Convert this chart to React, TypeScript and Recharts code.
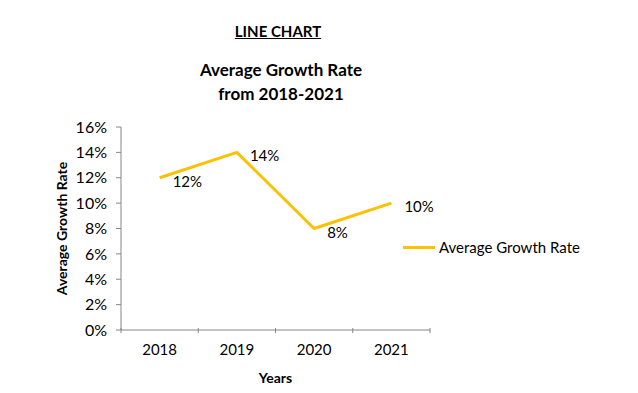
import { LineChart, Line, XAxis, YAxis, Legend, LabelList } from 'recharts';

const years = ['2018', '2019', '2020', '2021'];
const growthRate = [0.12, 0.14, 0.08, 0.1];
const yTicks = [0, 0.02, 0.04, 0.06, 0.08, 0.1, 0.12, 0.14, 0.16];
const seriesName = 'Average Growth Rate';

const data = years.map((year, i) => ({ year, rate: growthRate[i] }));

const FONT = 'Lato, "Liberation Sans", sans-serif';
const GOLD = '#FFC000';
const AXIS = '#868686';

const pct = (v: number) => `${Math.round(v * 100)}%`;

const renderLabel = (props: any) => {
  const { x, y, value } = props;
  return (
    <text x={x + 13} y={y + 3} fontSize={15} fontFamily={FONT} fill="#000" dominantBaseline="central">
      {pct(value)}
    </text>
  );
};

// category labels centred in each band, tick marks on the band edges (Excel style)
const renderXTick = (props: any) => {
  const { x, y, payload, index, visibleTicksCount } = props;
  const half = payload.offset || 0;
  const axisY = y - 16;
  return (
    <g>
      <line x1={x - half} x2={x - half} y1={axisY} y2={axisY + 5} stroke={AXIS} />
      {index === visibleTicksCount - 1 && (
        <line x1={x + half} x2={x + half} y1={axisY} y2={axisY + 5} stroke={AXIS} />
      )}
      <text x={x} y={axisY + 27} textAnchor="middle" fontSize={15} fontFamily={FONT} fill="#000">
        {payload.value}
      </text>
    </g>
  );
};

const renderLegend = () => (
  <div style={{ display: 'flex', alignItems: 'center', fontFamily: FONT, fontSize: 15 }}>
    <div style={{ width: 32, height: 3, background: GOLD, marginRight: 4 }} />
    <span>{seriesName}</span>
  </div>
);

const App = () => (
  <div style={{ position: 'absolute', left: 0, top: 0, width: 638, height: 393, background: '#fff', fontFamily: FONT }}>
    <div style={{ position: 'absolute', left: 0, width: 556, top: 22, textAlign: 'center', fontWeight: 'bold', fontSize: 15, textDecoration: 'underline' }}>
      LINE CHART
    </div>
    <div style={{ position: 'absolute', left: 0, width: 562, top: 58, textAlign: 'center', fontWeight: 'bold', fontSize: 17, lineHeight: '24px' }}>
      Average Growth Rate
      <br />
      from 2018-2021
    </div>
    <LineChart width={638} height={393} data={data} margin={{ top: 127, right: 208, bottom: 33, left: 61 }}>
      <XAxis
        dataKey="year"
        scale="band"
        stroke={AXIS}
        tickLine={false}
        tick={renderXTick}
        tickMargin={8}
        height={30}
        label={{ value: 'Years', position: 'insideBottom', offset: -23, fontWeight: 'bold', fontSize: 14, fill: '#000', fontFamily: FONT }}
      />
      <YAxis
        domain={[0, 0.16]}
        ticks={yTicks}
        tickFormatter={pct}
        stroke={AXIS}
        tickSize={5}
        tickMargin={9}
        width={60}
        tick={{ fill: '#000', fontSize: 16, fontFamily: FONT }}
        label={{ value: seriesName, angle: -90, position: 'insideLeft', offset: 1, fontWeight: 'bold', fontSize: 14, fill: '#000', fontFamily: FONT, style: { textAnchor: 'middle' } }}
      />
      <Legend
        content={renderLegend}
        layout="horizontal"
        verticalAlign="middle"
        wrapperStyle={{ position: 'absolute', left: 403, top: 238, width: 220 }}
      />
      <Line
        dataKey="rate"
        name={seriesName}
        stroke={GOLD}
        strokeWidth={3}
        dot={false}
        isAnimationActive={false}
      >
        <LabelList dataKey="rate" content={renderLabel} />
      </Line>
    </LineChart>
  </div>
);

export default App;
